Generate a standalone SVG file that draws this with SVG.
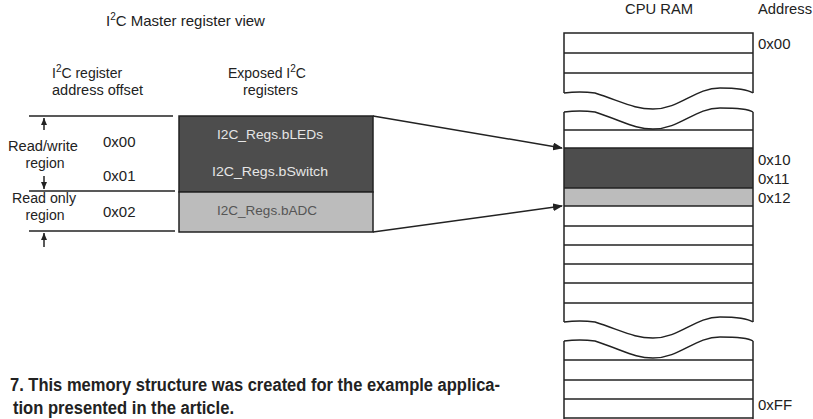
<svg xmlns="http://www.w3.org/2000/svg" width="813" height="419" viewBox="0 0 813 419">
<defs>
<style>
.t{font-family:"Liberation Sans",Arial,sans-serif;fill:#222;font-size:15px}
.s{font-size:14px}
.r{font-family:"Liberation Sans",Arial,sans-serif;font-size:13.5px}
.cap{font-family:"Liberation Sans",Arial,sans-serif;font-weight:bold;font-size:18px;fill:#222}
.ln{stroke:#222;stroke-width:1.5;fill:none}
.sup{font-size:10px}
</style>
<marker id="ah" markerWidth="10" markerHeight="8" refX="9" refY="4" orient="auto" markerUnits="userSpaceOnUse">
<path d="M0,0 L10,4 L0,8 Z" fill="#222"/>
</marker>
<marker id="sh" markerWidth="8" markerHeight="8" refX="7" refY="4" orient="auto" markerUnits="userSpaceOnUse">
<path d="M0,1 L7,4 L0,7 Z" fill="#222"/>
</marker>
</defs>
<rect width="813" height="419" fill="#fff"/>

<g id="headers">
<text class="t" x="106" y="26" font-size="16">I<tspan class="sup" dy="-6">2</tspan><tspan dy="6">C Master register view</tspan></text>
<text class="t s" x="52" y="78">I<tspan class="sup" dy="-6">2</tspan><tspan dy="6">C register</tspan></text>
<text class="t s" x="52" y="95" textLength="91" lengthAdjust="spacingAndGlyphs">address offset</text>
<text class="t s" x="228" y="78">Exposed I<tspan class="sup" dy="-6">2</tspan><tspan dy="6">C</tspan></text>
<text class="t s" x="243" y="95" textLength="55" lengthAdjust="spacingAndGlyphs">registers</text>
<text class="t" x="625" y="14" textLength="68" lengthAdjust="spacingAndGlyphs">CPU RAM</text>
<text class="t" x="758" y="14" textLength="54" lengthAdjust="spacingAndGlyphs">Address</text>
</g>

<g id="offset-table">
<line class="ln" x1="29" y1="116" x2="173" y2="116"/>
<line class="ln" x1="29" y1="191" x2="175" y2="191"/>
<line class="ln" x1="29" y1="231" x2="175" y2="231"/>
<line class="ln" x1="44" y1="130" x2="44" y2="118" marker-end="url(#sh)" stroke-width="1.2"/>
<line class="ln" x1="44" y1="176" x2="44" y2="189" marker-end="url(#sh)" stroke-width="1.2"/>
<line class="ln" x1="44" y1="247" x2="44" y2="233" marker-end="url(#sh)" stroke-width="1.2"/>
<text class="t s" x="8" y="151" textLength="70" lengthAdjust="spacingAndGlyphs">Read/write</text>
<text class="t s" x="45" y="168" text-anchor="middle">region</text>
<text class="t s" x="12" y="203" textLength="64" lengthAdjust="spacingAndGlyphs">Read only</text>
<text class="t s" x="45" y="220" text-anchor="middle">region</text>
<text class="t" x="103" y="147">0x00</text>
<text class="t" x="103" y="181">0x01</text>
<text class="t" x="103" y="217">0x02</text>
</g>

<g id="registers">
<rect x="179" y="116" width="194" height="76" fill="#4d4d4d" stroke="#222" stroke-width="1.5"/>
<rect x="179" y="192" width="194" height="40" fill="#bcbcbc" stroke="#222" stroke-width="1.5"/>
<text class="r" x="217" y="139" textLength="106" lengthAdjust="spacingAndGlyphs" fill="#e6e6e6">I2C_Regs.bLEDs</text>
<text class="r" x="212" y="176" textLength="116" lengthAdjust="spacingAndGlyphs" fill="#e6e6e6">I2C_Regs.bSwitch</text>
<text class="r" x="217" y="215" textLength="100" lengthAdjust="spacingAndGlyphs" fill="#555">I2C_Regs.bADC</text>
</g>

<g id="connectors">
<line class="ln" x1="373" y1="116" x2="562" y2="148" marker-end="url(#ah)"/>
<line class="ln" x1="373" y1="232" x2="562" y2="206" marker-end="url(#ah)"/>
</g>

<g id="cpu-ram">
<rect x="564" y="148" width="189" height="40" fill="#4d4d4d"/>
<rect x="564" y="188" width="189" height="18" fill="#bcbcbc"/>
<g class="ln">
<path d="M564,93 L564,33 L753,33 L753,93"/>
<line x1="564" y1="53" x2="753" y2="53"/>
<line x1="564" y1="73" x2="753" y2="73"/>
<path d="M564,93 Q580,91 595,93 C625,103 635,109 653,109 C680,109 695,88 720,88 C740,88 750,91 753,93"/>
<path d="M564,112 Q580,110 595,112 C625,122 635,129 653,129 C680,129 695,108 720,108 C740,108 750,110 753,112"/>
<path d="M564,112 L564,322 M753,112 L753,322"/>
<line x1="564" y1="130" x2="753" y2="130"/>
<line x1="564" y1="148" x2="753" y2="148"/>
<line x1="564" y1="188" x2="753" y2="188"/>
<line x1="564" y1="206" x2="753" y2="206"/>
<line x1="564" y1="226" x2="753" y2="226"/>
<line x1="564" y1="245" x2="753" y2="245"/>
<line x1="564" y1="264" x2="753" y2="264"/>
<line x1="564" y1="283" x2="753" y2="283"/>
<line x1="564" y1="303" x2="753" y2="303"/>
<path d="M564,322 Q580,320 595,322 C625,332 635,338 653,338 C680,338 695,317 720,317 C740,317 750,320 753,322"/>
<path d="M564,341 Q580,339 595,341 C625,351 635,358 653,358 C680,358 695,337 720,337 C740,337 750,339 753,341"/>
<path d="M564,341 L564,419 M753,341 L753,419"/>
<line x1="564" y1="360" x2="753" y2="360"/>
<line x1="564" y1="380" x2="753" y2="380"/>
<line x1="564" y1="399" x2="753" y2="399"/>
<line x1="564" y1="418" x2="753" y2="418"/>
</g>
<text class="t" x="758" y="49">0x00</text>
<text class="t" x="758" y="165">0x10</text>
<text class="t" x="758" y="184">0x11</text>
<text class="t" x="758" y="203">0x12</text>
<text class="t" x="758" y="410" font-size="14">0xFF</text>
</g>

<g id="caption">
<text class="cap" x="10" y="391" textLength="490" lengthAdjust="spacingAndGlyphs">7. This memory structure was created for the example applica-</text>
<text class="cap" x="13" y="414" textLength="221" lengthAdjust="spacingAndGlyphs">tion presented in the article.</text>
</g>
</svg>
